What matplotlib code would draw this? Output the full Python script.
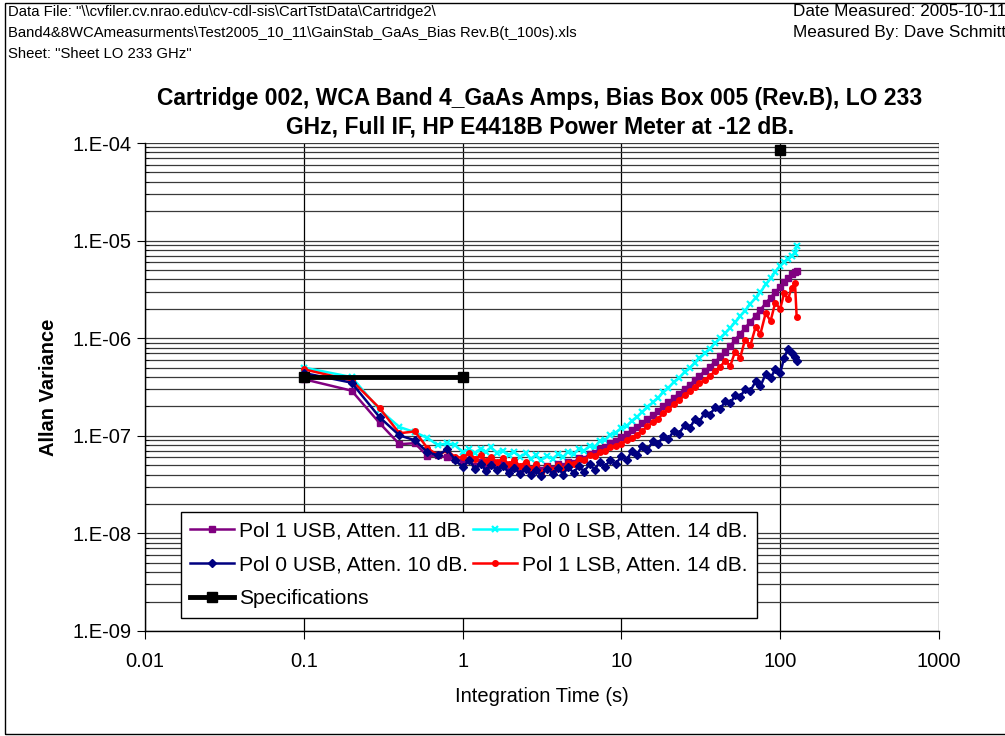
import numpy as np
import matplotlib.pyplot as plt
from matplotlib.ticker import FixedLocator, FuncFormatter, NullFormatter
from matplotlib.patches import Rectangle

plt.rcParams['font.family'] = ['Liberation Sans', 'DejaVu Sans']

# Integration time (s)
t = [0.1, 0.2, 0.3, 0.4, 0.5, 0.6, 0.7, 0.8, 0.9, 1.0,
     1.1, 1.2, 1.3, 1.4, 1.5, 1.65, 1.8, 1.95, 2.1, 2.3,
     2.5, 2.7, 2.9, 3.1, 3.4, 3.7, 4.0, 4.3, 4.6, 5.0,
     5.4, 5.8, 6.3, 6.8, 7.3, 7.9, 8.5, 9.2, 10, 10.8,
     11.6, 12.5, 13.5, 14.6, 15.8, 17, 18.4, 19.8, 21.4, 23,
     25, 27, 29, 31, 33.5, 36, 39, 42, 45, 48.5,
     52, 56, 60, 65, 70, 75, 81, 87, 93, 100,
     106, 112, 118, 124, 127]

# Allan variance
pol1_usb = [3.8e-7, 2.9e-7, 1.35e-7, 8.2e-8, 8.4e-8, 6.2e-8, 6.3e-8, 6.0e-8, 5.8e-8, 5.4e-8,
            5.6e-8, 4.9e-8, 5.4e-8, 4.7e-8, 5.3e-8, 4.8e-8, 5.2e-8, 4.6e-8, 5.0e-8, 4.5e-8,
            4.9e-8, 4.4e-8, 4.8e-8, 4.5e-8, 4.9e-8, 4.6e-8, 5.1e-8, 4.9e-8, 5.4e-8, 5.3e-8,
            5.9e-8, 5.8e-8, 6.5e-8, 6.6e-8, 7.3e-8, 7.6e-8, 8.4e-8, 8.9e-8, 9.8e-8, 1.04e-7,
            1.14e-7, 1.22e-7, 1.36e-7, 1.48e-7, 1.63e-7, 1.8e-7, 2.0e-7, 2.2e-7, 2.45e-7, 2.7e-7,
            3.0e-7, 3.35e-7, 3.7e-7, 4.1e-7, 4.6e-7, 5.1e-7, 5.7e-7, 6.5e-7, 7.3e-7, 8.3e-7,
            9.6e-7, 1.11e-6, 1.27e-6, 1.47e-6, 1.7e-6, 1.95e-6, 2.28e-6, 2.6e-6, 2.95e-6, 3.35e-6,
            3.75e-6, 4.1e-6, 4.5e-6, 4.8e-6, 4.9e-6]
pol0_lsb = [5.0e-7, 4.0e-7, 1.85e-7, 1.23e-7, 1.09e-7, 9.5e-8, 8.0e-8, 8.4e-8, 8.0e-8, 6.8e-8,
            7.3e-8, 6.6e-8, 7.4e-8, 6.8e-8, 7.6e-8, 6.7e-8, 7.0e-8, 6.3e-8, 6.9e-8, 6.1e-8,
            6.6e-8, 5.8e-8, 6.3e-8, 5.6e-8, 6.2e-8, 5.8e-8, 6.5e-8, 6.0e-8, 6.9e-8, 6.5e-8,
            7.3e-8, 7.0e-8, 7.9e-8, 7.7e-8, 8.8e-8, 9.0e-8, 1.03e-7, 1.08e-7, 1.2e-7, 1.26e-7,
            1.42e-7, 1.55e-7, 1.75e-7, 1.95e-7, 2.2e-7, 2.45e-7, 2.8e-7, 3.1e-7, 3.55e-7, 3.9e-7,
            4.5e-7, 5.0e-7, 5.6e-7, 6.2e-7, 7.0e-7, 7.8e-7, 8.9e-7, 1.0e-6, 1.12e-6, 1.28e-6,
            1.45e-6, 1.68e-6, 1.92e-6, 2.25e-6, 2.6e-6, 2.95e-6, 3.55e-6, 4.1e-6, 4.8e-6, 5.5e-6,
            6.0e-6, 6.5e-6, 7.0e-6, 7.5e-6, 8.8e-6]
pol0_usb = [4.4e-7, 3.5e-7, 1.55e-7, 1.01e-7, 9.0e-8, 6.8e-8, 6.3e-8, 7.3e-8, 5.6e-8, 4.8e-8,
            5.6e-8, 4.6e-8, 5.2e-8, 4.4e-8, 5.0e-8, 4.5e-8, 4.9e-8, 4.2e-8, 4.7e-8, 4.1e-8,
            4.6e-8, 4.0e-8, 4.5e-8, 3.9e-8, 4.6e-8, 4.1e-8, 4.7e-8, 4.0e-8, 4.8e-8, 4.2e-8,
            4.9e-8, 4.3e-8, 5.1e-8, 4.5e-8, 5.4e-8, 4.8e-8, 5.7e-8, 5.1e-8, 6.2e-8, 5.6e-8,
            7.0e-8, 6.4e-8, 7.8e-8, 7.2e-8, 8.8e-8, 8.2e-8, 1.0e-7, 9.3e-8, 1.13e-7, 1.05e-7,
            1.28e-7, 1.2e-7, 1.48e-7, 1.4e-7, 1.72e-7, 1.65e-7, 1.95e-7, 1.9e-7, 2.25e-7, 2.15e-7,
            2.6e-7, 2.5e-7, 3.0e-7, 2.9e-7, 3.6e-7, 3.2e-7, 4.3e-7, 3.9e-7, 4.8e-7, 4.4e-7,
            6.3e-7, 7.8e-7, 7.0e-7, 6.4e-7, 5.9e-7]
pol1_lsb = [4.8e-7, 3.7e-7, 1.92e-7, 1.06e-7, 1.11e-7, 7.5e-8, 6.3e-8, 7.1e-8, 6.0e-8, 6.0e-8,
            6.6e-8, 5.8e-8, 6.3e-8, 5.5e-8, 6.1e-8, 5.4e-8, 5.9e-8, 5.1e-8, 5.6e-8, 4.9e-8,
            5.4e-8, 4.6e-8, 5.1e-8, 4.2e-8, 4.9e-8, 4.5e-8, 5.0e-8, 4.6e-8, 5.3e-8, 5.1e-8,
            5.8e-8, 5.6e-8, 6.3e-8, 6.2e-8, 6.9e-8, 7.0e-8, 7.7e-8, 7.9e-8, 8.3e-8, 9.0e-8,
            9.5e-8, 1.03e-7, 1.12e-7, 1.25e-7, 1.38e-7, 1.5e-7, 1.7e-7, 1.88e-7, 2.1e-7, 2.3e-7,
            2.6e-7, 2.9e-7, 3.15e-7, 3.45e-7, 3.75e-7, 4.1e-7, 4.6e-7, 5.1e-7, 5.9e-7, 5.2e-7,
            7.3e-7, 6.3e-7, 9.6e-7, 8.5e-7, 1.3e-6, 1.1e-6, 1.8e-6, 1.5e-6, 2.3e-6, 2.0e-6,
            2.9e-6, 2.5e-6, 3.3e-6, 3.65e-6, 1.65e-6]

# Specification points (gap between the line and the last point)
spec_t = [0.1, 1, np.nan, 100]
spec_v = [4e-7, 4e-7, np.nan, 8.5e-5]

header_left = ['Data File: "\\\\cvfiler.cv.nrao.edu\\cv-cdl-sis\\CartTstData\\Cartridge2\\',
               'Band4&8WCAmeasurments\\Test2005_10_11\\GainStab_GaAs_Bias Rev.B(t_100s).xls',
               'Sheet: "Sheet LO 233 GHz"']
header_right = ['Date Measured: 2005-10-11', 'Measured By: Dave Schmitt']
title = ('Cartridge 002, WCA Band 4_GaAs Amps, Bias Box 005 (Rev.B), LO 233\n'
         'GHz, Full IF, HP E4418B Power Meter at -12 dB.')

fig = plt.figure(figsize=(10.05, 7.36), dpi=100)
ax = fig.add_axes([0.1443, 0.1427, 0.790, 0.663])

l_p1u, = ax.plot(t, pol1_usb, color='#800080', lw=1.8, marker='s', ms=4,
                 label='Pol 1 USB, Atten. 11 dB.', zorder=3)
l_p0l, = ax.plot(t, pol0_lsb, color='#00ffff', lw=1.8, marker='x', ms=4.5, mew=1.6,
                 label='Pol 0 LSB, Atten. 14 dB.', zorder=2)
l_p1l, = ax.plot(t, pol1_lsb, color='#ff0000', lw=1.8, marker='o', ms=4,
                 label='Pol 1 LSB, Atten. 14 dB.', zorder=4)
l_p0u, = ax.plot(t, pol0_usb, color='#000080', lw=1.8, marker='D', ms=4,
                 label='Pol 0 USB, Atten. 10 dB.', zorder=5)
l_spec, = ax.plot(spec_t, spec_v, color='black', lw=3.5, marker='s', ms=7.5,
                  label='Specifications', zorder=6)

ax.set_xscale('log')
ax.set_yscale('log')
ax.set_xlim(0.01, 1000)
ax.set_ylim(1e-9, 1e-4)

ax.xaxis.set_major_locator(FixedLocator([0.01, 0.1, 1, 10, 100, 1000]))
ax.xaxis.set_minor_locator(FixedLocator([]))
ax.xaxis.set_major_formatter(FuncFormatter(lambda v, p: f'{v:g}'))
ax.yaxis.set_major_locator(FixedLocator([1e-9, 1e-8, 1e-7, 1e-6, 1e-5, 1e-4]))
ax.yaxis.set_minor_locator(FixedLocator([m * 10.0 ** e for e in range(-9, -4) for m in range(2, 10)]))
ax.yaxis.set_major_formatter(FuncFormatter(lambda v, p: f'1.E-{int(round(-np.log10(v))):02d}'))
ax.yaxis.set_minor_formatter(NullFormatter())

ax.grid(True, which='major', axis='x', color='black', lw=0.9)
ax.grid(True, which='both', axis='y', color='#3a3a3a', lw=0.9)
ax.set_axisbelow(True)

for s in ['top', 'right']:
    ax.spines[s].set_visible(False)
ax.spines['left'].set_linewidth(1.0)
ax.spines['bottom'].set_linewidth(1.0)
ax.tick_params(axis='x', which='major', direction='out', length=6, labelsize=14.5, pad=9)
ax.tick_params(axis='y', which='major', direction='out', length=6, labelsize=14.5, pad=4)
ax.tick_params(axis='y', which='minor', direction='in', length=3)

ax.set_xlabel('Integration Time (s)', fontsize=14.5, labelpad=12)
ax.set_ylabel('Allan Variance', fontsize=14.5, fontweight='bold', labelpad=10)

leg = ax.legend(handles=[l_p1u, l_p0u, l_spec, l_p0l, l_p1l], ncol=2, loc='lower left',
                bbox_to_anchor=(0.045, 0.027), borderaxespad=0, fontsize=15.1,
                fancybox=False, framealpha=1, edgecolor='black', numpoints=1,
                handlelength=2.1, handletextpad=0.22, columnspacing=0.25,
                labelspacing=0.72, borderpad=0.45)
leg.get_frame().set_linewidth(1.0)

fig.text(0.537, 0.847, title, ha='center', va='center', fontsize=16.5,
         fontweight='bold', linespacing=1.3)

for i, s in enumerate(header_left):
    fig.text(8 / 1005, 1 - (12 + 21 * i) / 736, s, ha='left', va='center', fontsize=10.7)
for i, s in enumerate(header_right):
    fig.text(793 / 1005, 1 - (12 + 21 * i) / 736, s, ha='left', va='center', fontsize=12.3)

fig.patches.append(Rectangle((5 / 1005, 2 / 736), 1.2, 731 / 736, fill=False,
                             edgecolor='black', lw=1.0, transform=fig.transFigure))

fig.savefig('out.png', dpi=100)
